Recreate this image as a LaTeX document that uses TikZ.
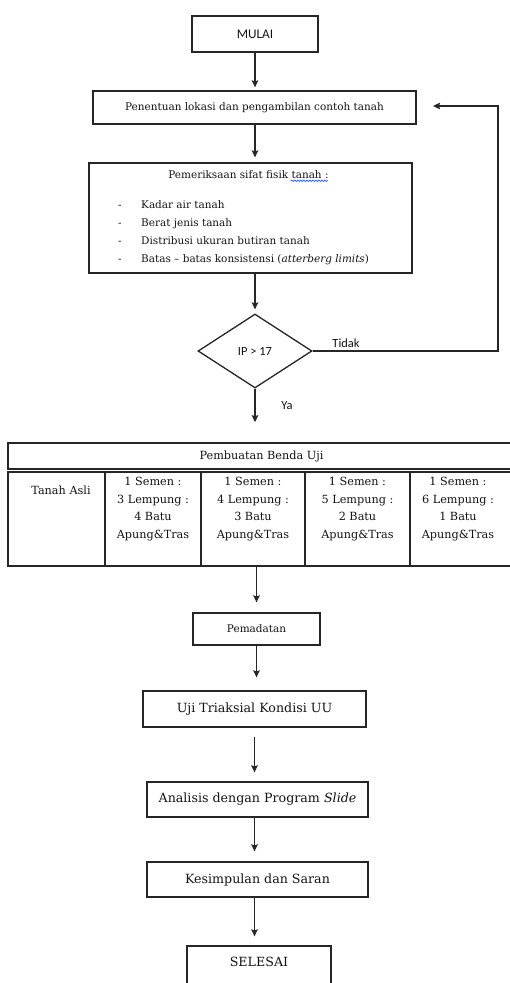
\documentclass[tikz,border=0pt]{standalone}
\usepackage{fontspec}
\setmainfont{DejaVu Serif}
\newfontfamily\sansf{Carlito}
\usetikzlibrary{arrows.meta,shapes.geometric,decorations.pathmorphing}
\begin{document}
\begin{tikzpicture}[x=1bp,y=-1bp,
  every node/.style={text=black!92},
  box/.style={draw=black!85,line width=1.3bp,inner sep=0pt,align=center},
  tbox/.style={draw=black!85,line width=1.5bp,inner sep=0pt,align=center},
  arr/.style={-{Stealth[length=7bp,width=6.5bp,inset=1bp]},line width=1.3bp,draw=black!85},
  fa/.style={font=\fontsize{10.5}{12.6}\selectfont},
  fb/.style={font=\fontsize{11.3}{13.5}\selectfont},
  fc/.style={font=\fontsize{12.7}{15}\selectfont},
  fs/.style={font=\sansf\fontsize{13.3}{16}\selectfont},
  fsm/.style={font=\sansf\fontsize{12.5}{14}\selectfont}]
\clip (0,0) rectangle (510,983);
\fill[white] (0,0) rectangle (510,983);

% boxes
\node[box,fs,minimum width=126bp,minimum height=36bp] (mulai) at (255,34) {MULAI};
\node[box,fa,minimum width=323bp,minimum height=33bp] (lok) at (254.5,107.5) {Penentuan lokasi dan pengambilan contoh tanah};
\node[box,minimum width=323bp,minimum height=110bp] (fisik) at (250.5,218) {};
\node[fa,inner sep=0pt] (ftitle) at (248.5,175) {Pemeriksaan sifat fisik tanah :};
\draw[blue!75!cyan,line width=0.6bp,decorate,decoration={snake,amplitude=0.7bp,segment length=3bp}] (ftitle.south east) ++(-38,1.5) -- ++(37,0);
\node[inner sep=0pt,anchor=north west,font=\fontsize{10.5}{18}\selectfont] (items) at (118,196)
  {\begin{tabular}{@{}p{23bp}@{}l@{}}
   -&Kadar air tanah\\
   -&Berat jenis tanah\\
   -&Distribusi ukuran butiran tanah\\
   -&Batas -- batas konsistensi (\textit{atterberg limits})
   \end{tabular}};

\node[draw=black!85,line width=1.3bp,shape=diamond,minimum width=114bp,minimum height=74bp,inner sep=0pt,fsm] (dia) at (255,351) {IP > 17};
\node[fsm,inner sep=0pt] (tidak) at (346,343) {Tidak};
\node[fsm,inner sep=0pt] (ya) at (287,406) {Ya};

% table
\node[tbox,fb,minimum width=507bp,minimum height=26bp] (hdr) at (261.5,456) {Pembuatan Benda Uji};
\node[tbox,minimum width=97bp,minimum height=94bp] (c1) at (56.5,519) {};
\node[tbox,minimum width=96bp,minimum height=94bp] (c2) at (153,519) {};
\node[tbox,minimum width=104bp,minimum height=94bp] (c3) at (253,519) {};
\node[tbox,minimum width=105bp,minimum height=94bp] (c4) at (357.5,519) {};
\node[tbox,minimum width=105bp,minimum height=94bp] (c5) at (462.5,519) {};
\node[fb,inner sep=0pt] (t1) at (61,490) {Tanah Asli};
\node[inner sep=0pt,align=center,font=\fontsize{11.3}{17.7}\selectfont] (t2) at (153,509) {1 Semen :\\3 Lempung :\\4 Batu\\Apung\&Tras};
\node[inner sep=0pt,align=center,font=\fontsize{11.3}{17.7}\selectfont] (t3) at (253,509) {1 Semen :\\4 Lempung :\\3 Batu\\Apung\&Tras};
\node[inner sep=0pt,align=center,font=\fontsize{11.3}{17.7}\selectfont] (t4) at (357.5,509) {1 Semen :\\5 Lempung :\\2 Batu\\Apung\&Tras};
\node[inner sep=0pt,align=center,font=\fontsize{11.3}{17.7}\selectfont] (t5) at (458,509) {1 Semen :\\6 Lempung :\\1 Batu\\Apung\&Tras};

\node[box,fa,minimum width=127bp,minimum height=32bp] (pem) at (256.5,629) {Pemadatan};
\node[box,fc,minimum width=223bp,minimum height=36bp] (uji) at (254.5,709) {Uji Triaksial Kondisi UU};
\node[box,fc,minimum width=221bp,minimum height=35bp] (ana) at (257.5,799.5) {Analisis dengan Program \textit{Slide}};
\node[box,fc,minimum width=221bp,minimum height=35bp] (kes) at (257.5,879.5) {Kesimpulan dan Saran};
\node[box,fc,minimum width=144bp,minimum height=60bp,text height=9bp,text depth=28bp] (sel) at (259,976) {SELESAI};

% connectors
\coordinate (rt) at (498,106);
\coordinate (fbk) at (433,106);
\draw[arr,shorten >=3bp] (mulai.south) -- (mulai.south |- lok.north);
\draw[arr,shorten >=5bp] (dia.north |- lok.south) -- (dia.north |- fisik.north);
\draw[arr,shorten >=4bp] (dia.north |- fisik.south) -- (dia.north);
\draw[arr] (dia.east) -| (rt) -- (fbk);
\draw[arr,shorten >=20bp] (dia.south) -- (dia.south |- hdr.north);
\draw[arr,shorten >=10bp] (pem.north |- c3.south) -- (pem.north);
\draw[arr,shorten >=13bp] (pem.south) -- (pem.south |- uji.north);
\draw[arr,shorten <=9bp,shorten >=9bp] (uji.south) -- (uji.south |- ana.north);
\draw[arr,shorten >=10bp] (uji.south |- ana.south) -- (uji.south |- kes.north);
\draw[arr,shorten >=9bp] (uji.south |- kes.south) -- (uji.south |- sel.north);
\end{tikzpicture}
\end{document}
